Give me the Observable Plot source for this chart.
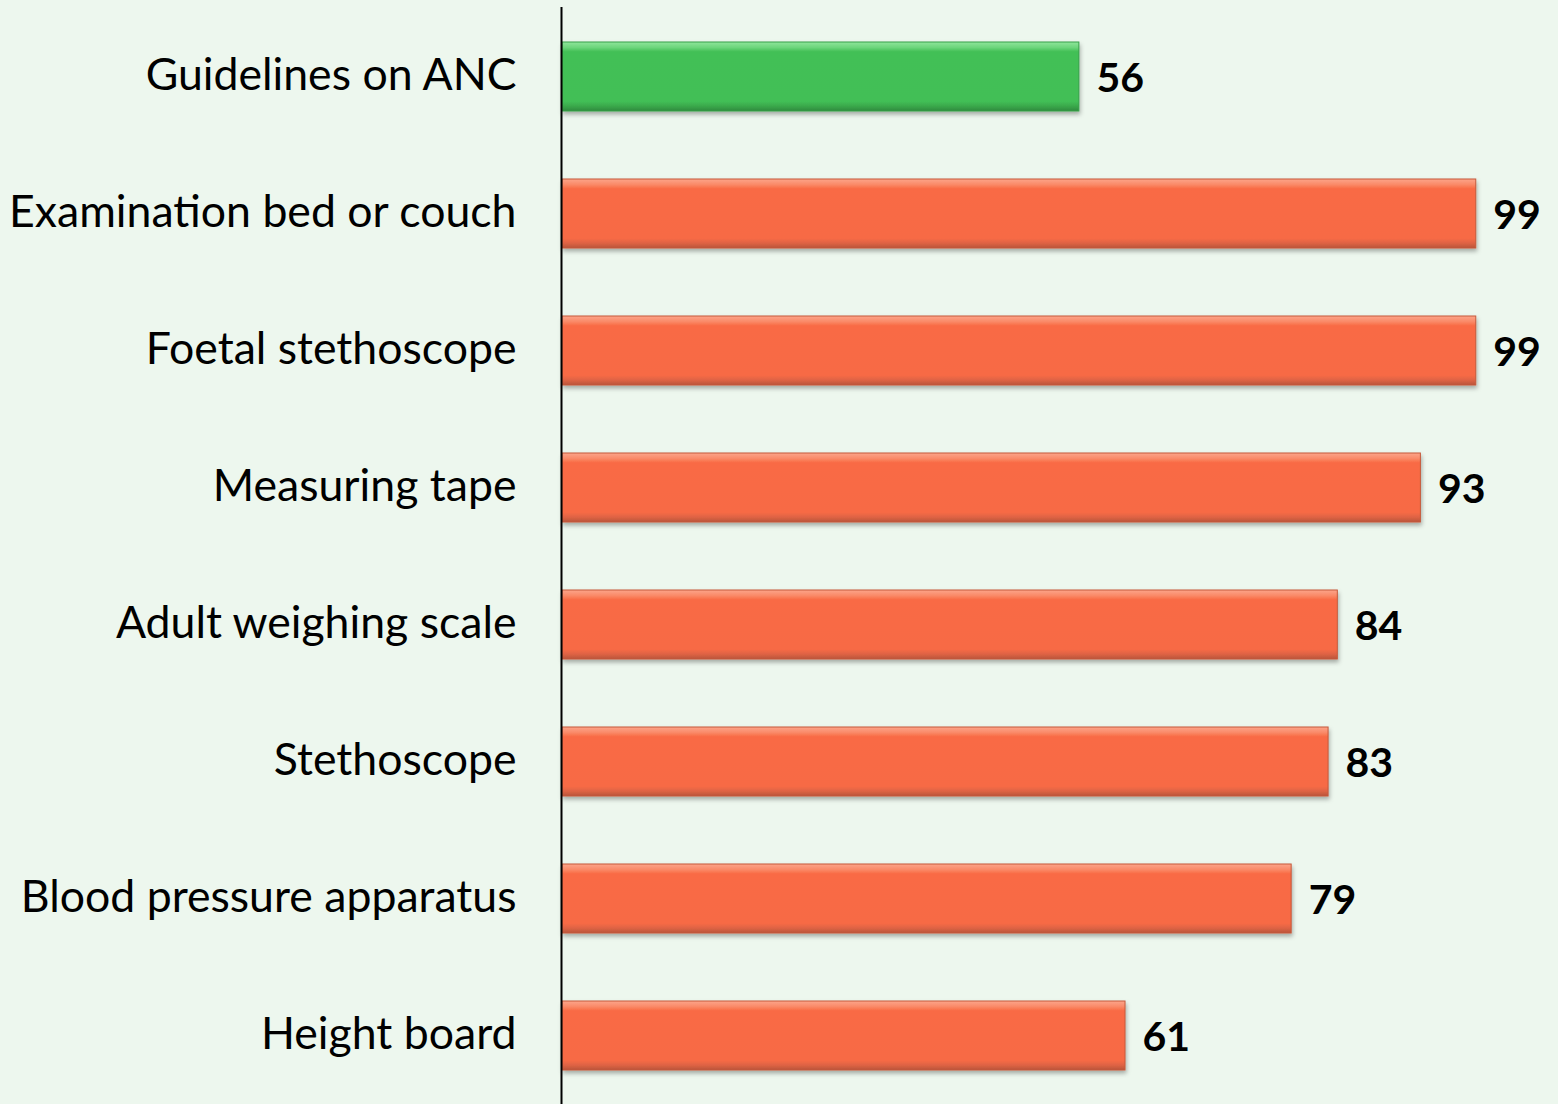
<!DOCTYPE html>
<html>
<head>
<meta charset="utf-8">
<script src="https://cdn.jsdelivr.net/npm/d3@7"></script>
<script src="https://cdn.jsdelivr.net/npm/@observablehq/plot@0.6"></script>
<style>
  html, body { margin: 0; padding: 0; background: #EDF7EE; }
  #chart svg { display: block; background: #EDF7EE; }
</style>
</head>
<body>
<div id="chart"></div>
<script>
const categories = [
  "Guidelines on ANC",
  "Examination bed or couch",
  "Foetal stethoscope",
  "Measuring tape",
  "Adult weighing scale",
  "Stethoscope",
  "Blood pressure apparatus",
  "Height board"
];
const values = [56, 99, 99, 93, 84, 83, 79, 61];
const highlighted = ["Guidelines on ANC"];

const data = categories.map((c, i) => ({ item: c, value: values[i], hi: highlighted.includes(c) }));

const chart = Plot.plot({
  width: 1558,
  height: 1104,
  marginLeft: 562,
  marginRight: 73,
  marginTop: 7,
  marginBottom: 0,
  style: { background: "#EDF7EE", overflow: "visible" },
  x: { domain: [0, 100], axis: null },
  y: { domain: categories, axis: null, paddingInner: 0.5, paddingOuter: 0.25 },
  marks: [
    Plot.barX(data.filter(d => !d.hi), { x: "value", y: "item", fill: "url(#gOrange)", stroke: "#C5593B", strokeWidth: 1 }),
    Plot.barX(data.filter(d => d.hi), { x: "value", y: "item", fill: "url(#gGreen)", stroke: "#36A048", strokeWidth: 1 }),
    Plot.ruleX([0], { stroke: "#000", strokeWidth: 2, dx: -1 }),
    Plot.text(data, { x: 0, y: "item", text: "item", textAnchor: "end", dx: -46, dy: -1, fontSize: 44.6, fontFamily: "Lato", fill: "#000" }),
    Plot.text(data, { x: "value", y: "item", text: d => String(d.value), textAnchor: "start", dx: 17, dy: 2, fontSize: 41, fontWeight: "bold", fontFamily: "Lato", fill: "#000" })
  ]
});

const svg = d3.select(chart);
const defs = svg.insert("defs", ":first-child");
function grad(id, stops) {
  const g = defs.append("linearGradient").attr("id", id).attr("x1", 0).attr("y1", 0).attr("x2", 0).attr("y2", 1);
  stops.forEach(([o, c]) => g.append("stop").attr("offset", o).attr("stop-color", c));
}
grad("gOrange", [[0, "#FCA58A"], [0.08, "#FA8A68"], [0.14, "#F96B45"], [0.86, "#F76A45"], [0.93, "#DE6344"], [1, "#B9553A"]]);
grad("gGreen", [[0, "#8FE59B"], [0.08, "#6CD57B"], [0.14, "#43C057"], [0.86, "#42BF56"], [0.93, "#3AA84B"], [1, "#2F8A3D"]]);
const f = defs.append("filter").attr("id", "shadow").attr("x", "-5%").attr("y", "-20%").attr("width", "110%").attr("height", "160%");
f.append("feDropShadow").attr("dx", 1).attr("dy", 3).attr("stdDeviation", 2).attr("flood-color", "#000").attr("flood-opacity", 0.3);
svg.selectAll("g[aria-label='bar']").attr("filter", "url(#shadow)");

document.getElementById("chart").appendChild(chart);
</script>
</body>
</html>
